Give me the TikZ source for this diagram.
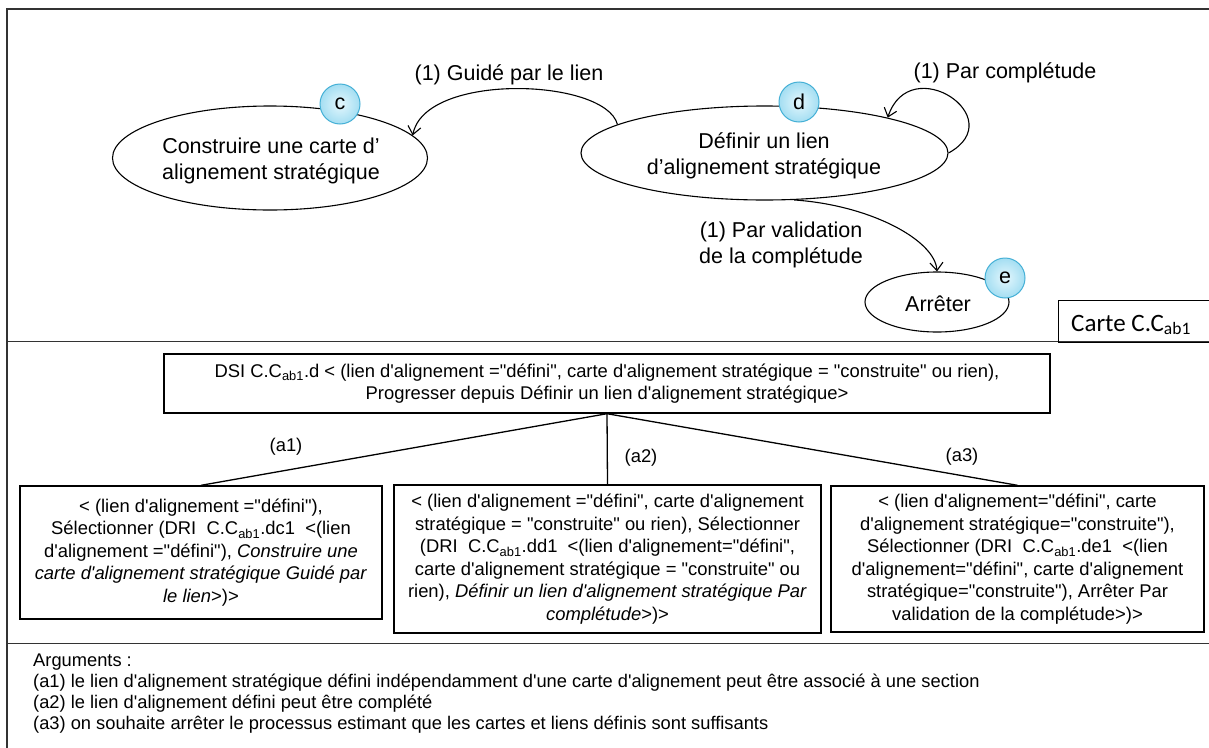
\documentclass[tikz,border=0pt]{standalone}
\usepackage{fontspec}
\setmainfont{Liberation Sans}[Ligatures=TeXOff]
\newfontfamily\carlito{Carlito}
\usetikzlibrary{shapes.geometric,arrows.meta}
\definecolor{bulleborder}{HTML}{45B0D6}
\definecolor{bullein}{HTML}{E4F7FD}
\definecolor{bulleout}{HTML}{A4DEF2}
\begin{document}
\begin{tikzpicture}[x=1pt,y=-1pt,
 cadre/.style={line width=1.4pt,draw=black!80},
 etat/.style={ellipse,draw=black,line width=1.1pt,inner sep=0pt},
 grand/.style={font=\fontsize{21.5}{26}\selectfont},
 lbl/.style={grand,align=center,inner sep=0pt},
 bulle/.style={circle,draw=bulleborder,line width=1pt,inner color=bullein,outer color=bulleout,minimum size=40pt,inner sep=0pt,grand},
 fleche/.style={line width=1.1pt,-{Straight Barb[length=8pt,width=13pt,line width=1.1pt]}},
 boite/.style={draw=black,line width=1.4pt,inner sep=0pt,align=center,font=\fontsize{18.4}{22.5}\selectfont},
 lien/.style={line width=1.3pt,draw=black},
 petit/.style={font=\fontsize{18.4}{22.5}\selectfont,inner sep=0pt},
 arg/.style={font=\fontsize{18.3}{20}\selectfont,inner sep=0pt,anchor=base west}]

\useasboundingbox (0,0) rectangle (1209,747);
\fill[white] (0,0) rectangle (1209,747);

% frame and dividers
\draw[cadre] (7,760) -- (7,9) -- (1220,9);
\draw[cadre] (7,341.5) -- (1220,341.5);
\draw[cadre] (7,643.5) -- (1220,643.5);

% map states
\node[etat,minimum width=315pt,minimum height=104pt] (c) at (270,158) {};
\node[lbl] (ctext) at (271,161) {Construire une carte d’\\alignement stratégique};
\node[etat,minimum width=367pt,minimum height=94pt] (d) at (764.5,153) {};
\node[lbl] (dtext) at (764,155.5) {Définir un lien\\d’alignement stratégique};
\node[etat,minimum width=144pt,minimum height=60pt] (e) at (937,302) {};
\node[lbl] (etext) at (938,304) {Arrêter};
\node[bulle] (bc) at (340,104) {c};
\node[bulle] (bd) at (799,102) {d};
\node[bulle] (be) at (1005,278) {e};

% transitions
\draw[fleche] (d.169) .. controls (605,78) and (425,72) .. (c.9);
\draw[fleche] (d.east) .. controls (1012,118) and (910,50) .. (d.16);
\draw[fleche] (d.-58) .. controls (870,205) and (935,240) .. (e.north);
\node[lbl] (l1) at (509,74.5) {(1) Guidé par le lien};
\node[lbl] (l2) at (1005,72.5) {(1) Par complétude};
\node[lbl] (l3) at (781,244.5) {(1) Par validation\\de la complétude};

% map label
\node[draw=black,line width=1.4pt,minimum width=175pt,minimum height=41.5pt,anchor=north west,inner sep=0pt] (cartebox) at (1058,300) {};
\node[anchor=base west,inner sep=0pt,font=\carlito\fontsize{25}{29}\selectfont] (carte) at (1071,331) {Carte C.C\textsubscript{ab1}};

% tree
\node[boite,minimum width=886pt,minimum height=59pt] (dsi) at (607,383.5) {DSI C.C\textsubscript{ab1}.d < (lien d'alignement ="défini", carte d'alignement stratégique = "construite" ou rien),\\Progresser depuis Définir un lien d'alignement stratégique>};
\node[boite,minimum width=362pt,minimum height=133pt] (b1) at (201,552.5) {< (lien d'alignement ="défini"),\\Sélectionner (DRI\ \ C.C\textsubscript{ab1}.dc1\ \ <(lien\\d'alignement ="défini"), \textit{Construire une}\\\textit{carte d'alignement stratégique Guidé par}\\\textit{le lien}>)>};
\node[boite,minimum width=427pt,minimum height=148pt] (b2) at (607.5,559) {< (lien d'alignement ="défini", carte d'alignement\\stratégique = "construite" ou rien), Sélectionner\\(DRI\ \ C.C\textsubscript{ab1}.dd1\ \ <(lien d'alignement="défini",\\carte d'alignement stratégique = "construite" ou\\rien), \textit{Définir un lien d'alignement stratégique Par}\\\textit{complétude}>)>};
\node[boite,minimum width=373pt,minimum height=146pt] (b3) at (1017.5,559) {< (lien d'alignement="défini", carte\\d'alignement stratégique="construite"),\\Sélectionner (DRI\ \ C.C\textsubscript{ab1}.de1\ \ <(lien\\d'alignement="défini", carte d'alignement\\stratégique="construite"), Arrêter Par\\validation de la complétude>)>};
\draw[lien] (dsi.south) -- (b1.north);
\draw[lien] (dsi.south) -- (b2.north);
\draw[lien] (dsi.south) -- (b3.north);
\node[petit] (la1) at (286,447) {(a1)};
\node[petit] (la2) at (641,458) {(a2)};
\node[petit] (la3) at (962,457) {(a3)};

% arguments
\node[arg] (arg0) at (33,666) {Arguments :};
\node[arg] (arg1) at (33,687.5) {(a1) le lien d'alignement stratégique défini indépendamment d'une carte d'alignement peut être associé à une section};
\node[arg] (arg2) at (33,708.5) {(a2) le lien d'alignement défini peut être complété};
\node[arg] (arg3) at (33,729.5) {(a3) on souhaite arrêter le processus estimant que les cartes et liens définis sont suffisants};
\end{tikzpicture}
\end{document}
